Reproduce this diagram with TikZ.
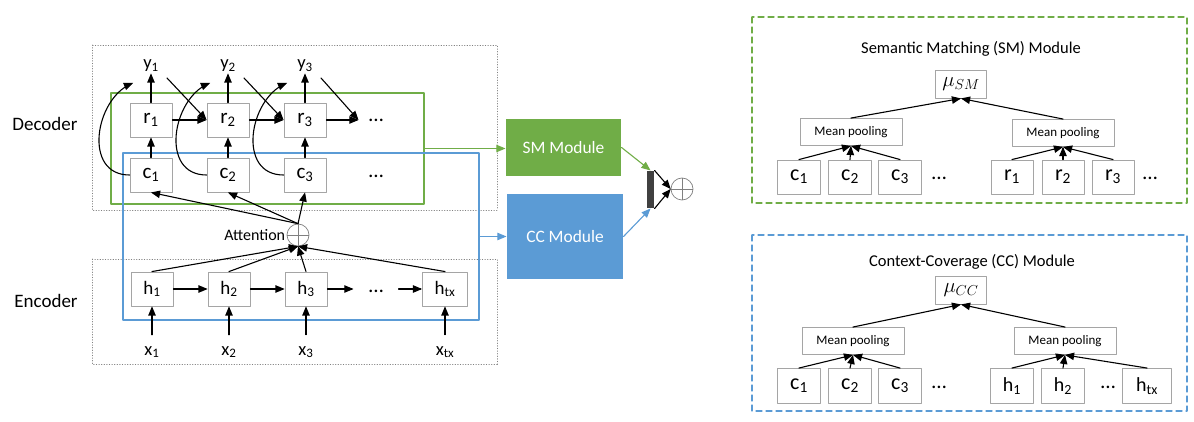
\documentclass[tikz,border=0pt]{standalone}
\usepackage{fontspec}
\setmainfont{Carlito}
\usetikzlibrary{arrows}
\definecolor{smgreen}{HTML}{70AD47}
\definecolor{ccblue}{HTML}{5B9BD5}
\definecolor{boxgray}{HTML}{A5A5A5}
\tikzset{
  unit/.style={draw=boxgray,line width=0.9pt,fill=white,minimum width=42pt,minimum height=34pt,inner sep=0pt,font=\fontsize{21}{24}\selectfont},
  lbl/.style={inner sep=1pt,font=\fontsize{18.5}{22}\selectfont},
  pool/.style={draw=boxgray,line width=0.9pt,minimum width=102pt,minimum height=27pt,inner sep=0pt,font=\fontsize{13}{15}\selectfont},
  mubox/.style={draw=boxgray,line width=0.9pt,minimum width=51pt,minimum height=28pt,inner sep=0pt,font=\fontsize{20}{22}\selectfont},
  oplus/.style={circle,draw=gray,line width=0.7pt,minimum size=22pt,inner sep=0pt,
    path picture={\draw[gray,line width=0.7pt] (path picture bounding box.north) -- (path picture bounding box.south)
      (path picture bounding box.west) -- (path picture bounding box.east);}},
  module/.style={text=white,inner sep=0pt,font=\fontsize{17.4}{20}\selectfont},
  title/.style={inner sep=0pt,font=\fontsize{16.5}{20}\selectfont},
  dots/.style={inner sep=1pt,font=\fontsize{21}{24}\selectfont},
}
\begin{document}
\begin{tikzpicture}[line cap=round,line join=round,>=triangle 45,x=1pt,y=-1pt,line width=1.1pt]
\useasboundingbox (0,0) rectangle (1194,422);
% dotted frames
\draw[gray,dotted,line width=0.6pt] (92,45) rectangle (497,210);
\draw[gray,dotted,line width=0.6pt] (92,259) rectangle (497,364);
\node[lbl,font=\fontsize{19}{22}\selectfont] (declbl) at (45,124) {Decoder};
\node[lbl,font=\fontsize{19}{22}\selectfont] (enclbl) at (46,301) {Encoder};
% green and blue frames
\node[draw=smgreen,line width=1.1pt,minimum width=313pt,minimum height=111pt] (smframe) at (267.5,148.5) {};
\node[draw=ccblue,line width=1.1pt,minimum width=356pt,minimum height=167pt] (ccframe) at (301,236.5) {};
% decoder
\foreach \i/\x in {1/151,2/228,3/305}{
  \node[unit] (r\i) at (\x,120) {r\textsubscript{\i}};
  \node[unit] (c\i) at (\x,175) {c\textsubscript{\i}};
  \node[lbl] (y\i) at (\x,66) {y\textsubscript{\i}};
  \coordinate (k\i) at (\x-18,83);
  \coordinate (d\i) at (\x+16,78);
  \draw[->] (r\i) -- (y\i);
  \draw[->] (c\i) -- (r\i);
  \draw[->] (c\i.west) .. controls +(-47,0) and +(-38,16) .. (k\i);
}
\node[dots,minimum width=34pt] (rdots) at (376,120) {…};
\node[dots] (cdots) at (376,176) {…};
\draw[->] (r1) -- (r2);
\draw[->] (r2) -- (r3);
\draw[->] (r3) -- (rdots);
\draw[->] (d1) -- (r2.west);
\draw[->] (d2) -- (r3.west);
\draw[->] (d3) -- (rdots.west);
% attention
\node[oplus] (att) at (298,235) {};
\node[lbl,anchor=east,font=\fontsize{16}{18}\selectfont] (attlbl) at (att.west) {Attention};
\foreach \i in {1,2,3}
  \draw[->] (att.north) -- (c\i.south);
% encoder
\foreach \i/\x in {1/152,2/229,3/306}{
  \node[unit,font=\fontsize{19}{22}\selectfont] (h\i) at (\x,289) {h\textsubscript{\i}};
  \node[lbl] (x\i) at (\x,352) {x\textsubscript{\i}};
  \draw[->,shorten <=10pt] (x\i) -- (h\i);
  \draw[->] (h\i.north) -- (att.south);
}
\node[unit,minimum width=45pt,font=\fontsize{19}{22}\selectfont] (htx) at (445,289) {h\textsubscript{tx}};
\node[lbl] (xtx) at (445,352) {x\textsubscript{tx}};
\node[dots,minimum width=44pt] (hdots) at (376,291) {…};
\draw[->,shorten <=10pt] (xtx) -- (htx);
\draw[->] (htx.north) -- (att.south);
\draw[->] (h1) -- (h2);
\draw[->] (h2) -- (h3);
\draw[->] (h3.east) -- (hdots.west |- h3.east);
\draw[->] (hdots.east |- htx.west) -- (htx.west);
% modules
\node[module,fill=smgreen,minimum width=115pt,minimum height=57pt] (sm) at (563.5,147.5) {SM Module};
\node[module,fill=ccblue,minimum width=116pt,minimum height=85pt] (cc) at (565,236.5) {CC Module};
\draw[->,smgreen] (smframe.east) -- (smframe.east -| sm.west);
\draw[->,ccblue] (ccframe.east) -- (cc.west);
\node[fill=darkgray,minimum width=7pt,minimum height=37pt,inner sep=0pt] (bar) at (650.5,189.5) {};
\node[oplus] (sum) at (682,189) {};
\draw[->,smgreen] (sm.east) -- (bar.north);
\draw[->,ccblue] (cc.east) -- (bar.south);
\draw[->] (bar.north east) -- (sum.west);
\draw[->] (bar.south east) -- (sum.west);
% semantic matching module
\draw[smgreen,dashed,line width=1.3pt,dash pattern=on 6pt off 4pt] (752,17) rectangle (1187,203);
\node[title] (smtitle) at (971,49) {Semantic Matching (SM) Module};
\node[mubox] (musm) at (961,84) {$\mu_{SM}$};
\node[pool] (smpoolc) at (851,132) {Mean pooling};
\node[pool] (smpoolr) at (1063,133) {Mean pooling};
\draw[->] (smpoolc.north) -- (musm.south);
\draw[->] (smpoolr.north) -- (musm.south);
\foreach \i/\x in {1/799,2/850,3/900}{
  \node[unit,minimum width=43pt,font=\fontsize{22}{24}\selectfont] (smc\i) at (\x,177) {c\textsubscript{\i}};
  \draw[->] (smc\i.north) -- (smpoolc.south);
}
\foreach \i/\x in {1/1012,2/1063,3/1113}{
  \node[unit,minimum width=42pt,font=\fontsize{22}{24}\selectfont] (smr\i) at (\x,177) {r\textsubscript{\i}};
  \draw[->] (smr\i.north) -- (smpoolr.south);
}
\node[dots] (smcdots) at (939,178) {…};
\node[dots] (smrdots) at (1150,178) {…};
% context coverage module
\draw[ccblue,dashed,line width=1.3pt,dash pattern=on 6pt off 4pt] (752,235) rectangle (1187,411);
\node[title] (cctitle) at (972,262) {Context-Coverage (CC) Module};
\node[mubox] (mucc) at (961,290) {$\mu_{CC}$};
\node[pool] (ccpoolc) at (853,341) {Mean pooling};
\node[pool] (ccpoolh) at (1065,341) {Mean pooling};
\draw[->] (ccpoolc.north) -- (mucc.south);
\draw[->] (ccpoolh.north) -- (mucc.south);
\foreach \i/\x in {1/799,2/850,3/900}{
  \node[unit,minimum width=43pt,minimum height=35pt,font=\fontsize{22}{24}\selectfont] (ccc\i) at (\x,386) {c\textsubscript{\i}};
  \draw[->] (ccc\i.north) -- (ccpoolc.south);
}
\foreach \i/\x in {1/1012,2/1063}{
  \node[unit,minimum width=43pt,minimum height=35pt,font=\fontsize{20}{22}\selectfont] (cch\i) at (\x,386) {h\textsubscript{\i}};
  \draw[->] (cch\i.north) -- (ccpoolh.south);
}
\node[unit,minimum width=49pt,minimum height=35pt,font=\fontsize{20}{22}\selectfont] (cchtx) at (1147,386) {h\textsubscript{tx}};
\draw[->] (cchtx.north) -- (ccpoolh.south);
\node[dots] (ccdots) at (939,387) {…};
\node[dots] (cchdots) at (1108,387) {…};
\end{tikzpicture}
\end{document}
